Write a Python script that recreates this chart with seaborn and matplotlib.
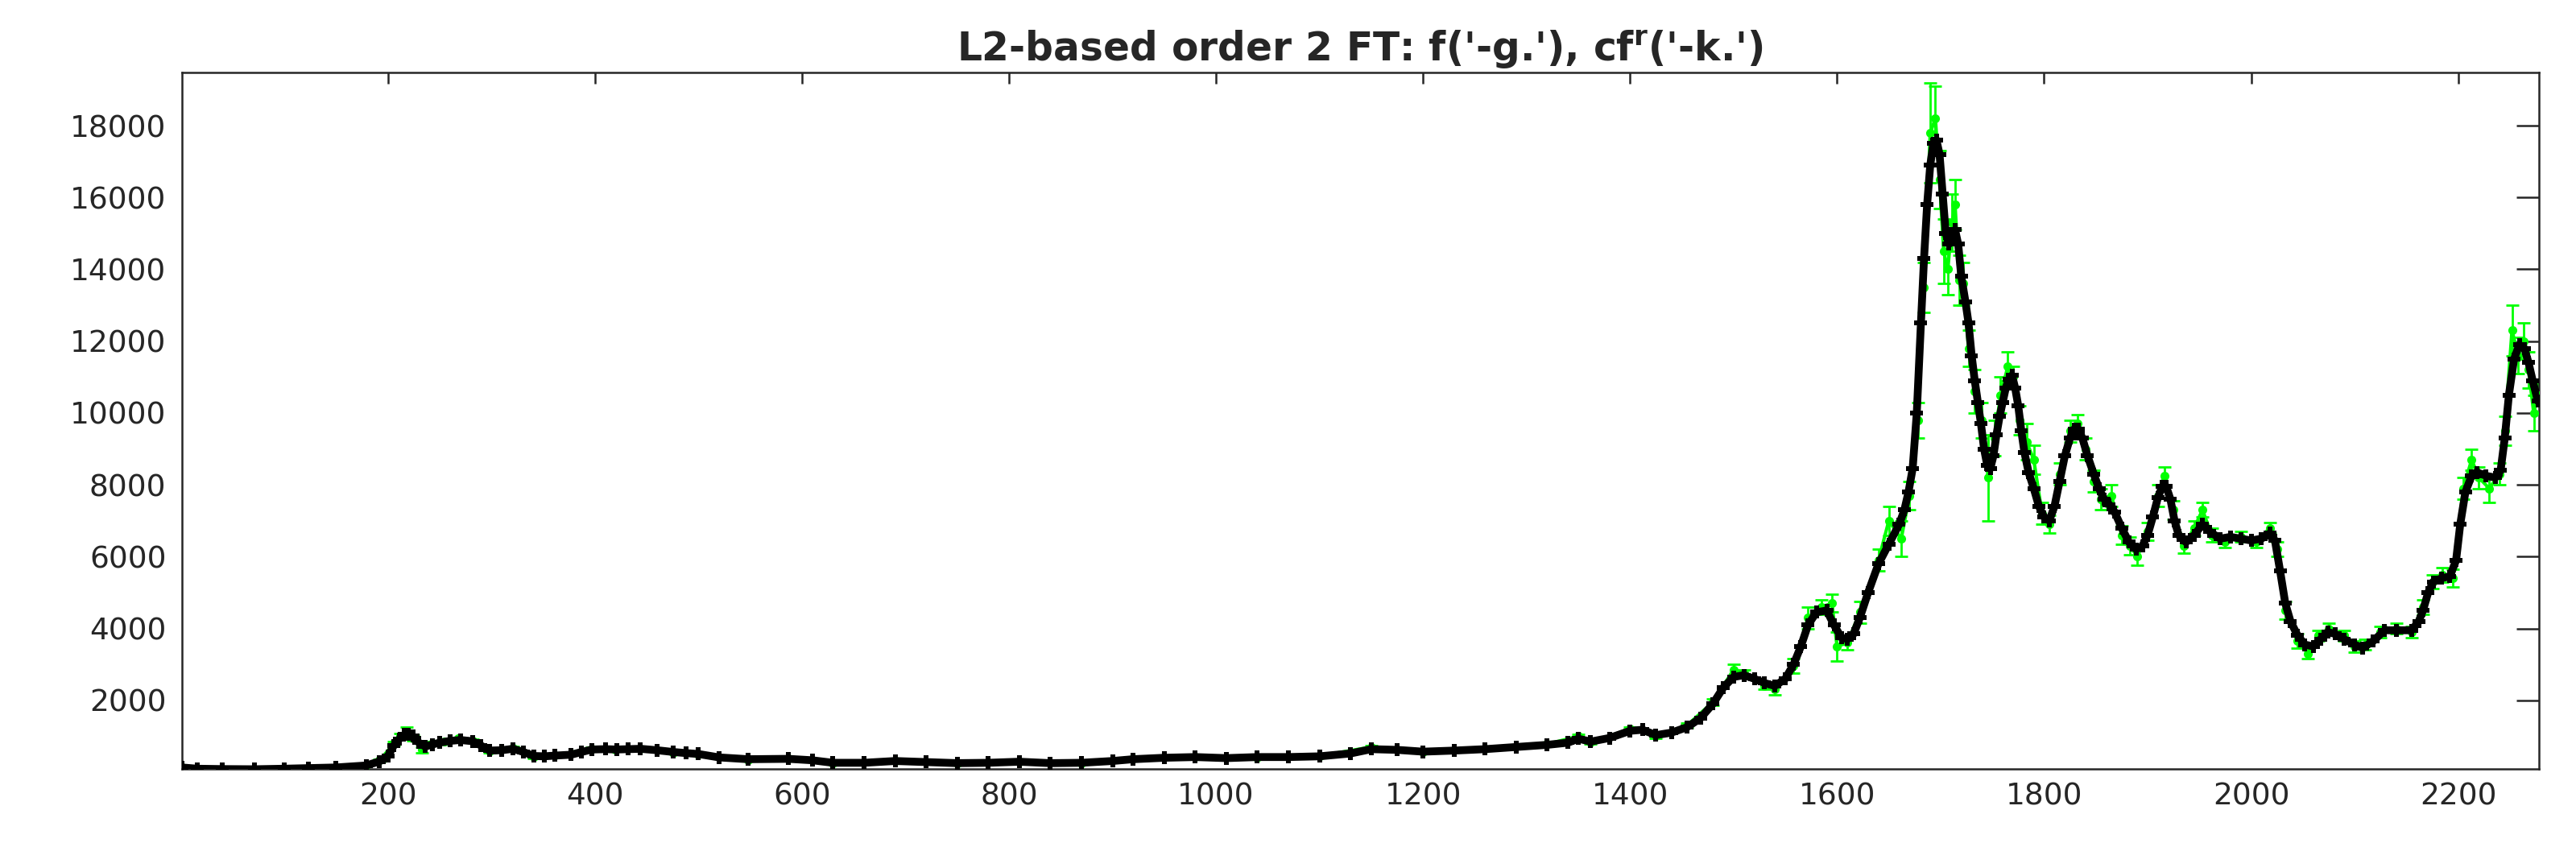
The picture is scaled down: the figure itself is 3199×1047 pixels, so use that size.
import numpy as np
import pandas as pd
import matplotlib
matplotlib.use('Agg')
import matplotlib.pyplot as plt
import seaborn as sns

# black curve: cf^r (smoothed fit)
cf_x = [1, 16, 40, 71, 100, 123, 150, 179, 192, 200, 206, 211, 216, 220, 224, 230, 236, 243, 250, 260,
        270, 282, 290, 298, 310, 321, 331, 341, 351, 361, 377, 387, 397, 410, 421, 432, 444, 460, 476, 488,
        500, 520, 548, 587, 610, 630, 660, 690, 720, 750, 780, 810, 840, 870, 900, 920, 950, 980, 1010, 1040,
        1070, 1100, 1130, 1150, 1175, 1200, 1230, 1260, 1290, 1320, 1340, 1350, 1362, 1380, 1400, 1412, 1425, 1440, 1455, 1468,
        1480, 1490, 1500, 1510, 1520, 1530, 1540, 1550, 1558, 1565, 1572, 1580, 1590, 1597, 1604, 1610, 1616, 1622, 1630, 1640,
        1650, 1660, 1665, 1669, 1673, 1677, 1681, 1684, 1687, 1690, 1693, 1696, 1699, 1702, 1705, 1708, 1711, 1714, 1717, 1720,
        1724, 1727, 1730, 1733, 1736, 1739, 1742, 1745, 1748, 1751, 1754, 1757, 1760, 1763, 1766, 1769, 1772, 1775, 1778, 1781,
        1785, 1790, 1795, 1800, 1805, 1810, 1815, 1820, 1825, 1829, 1833, 1837, 1842, 1848, 1853, 1858, 1863, 1868, 1875, 1882,
        1889, 1895, 1900, 1905, 1910, 1914, 1918, 1922, 1926, 1930, 1937, 1945, 1953, 1960, 1970, 1980, 1990, 2000, 2010, 2018,
        2023, 2028, 2033, 2038, 2045, 2052, 2060, 2067, 2074, 2081, 2090, 2100, 2108, 2118, 2129, 2140, 2155, 2162, 2166, 2171,
        2176, 2184, 2192, 2198, 2202, 2207, 2213, 2218, 2227, 2236, 2241, 2245, 2249, 2254, 2259, 2264, 2268, 2272, 2277]
cf_y = [130, 95, 85, 80, 95, 110, 130, 185, 300, 450, 750, 920, 1045, 1060, 1000, 820, 710, 770, 820, 870,
        895, 860, 740, 600, 610, 650, 560, 450, 440, 460, 485, 560, 630, 640, 630, 640, 650, 610, 560, 530,
        505, 410, 360, 370, 330, 260, 260, 310, 280, 250, 260, 290, 250, 260, 310, 360, 400, 420, 390, 420,
        420, 440, 520, 640, 620, 570, 600, 640, 700, 760, 820, 930, 850, 950, 1150, 1180, 1030, 1100, 1250, 1500,
        1900, 2350, 2650, 2700, 2600, 2480, 2400, 2600, 3000, 3500, 4100, 4450, 4500, 4100, 3750, 3700, 3850, 4300, 5000, 5800,
        6350, 6900, 7300, 7800, 8450, 10000, 12500, 14300, 15800, 16900, 17500, 17600, 17200, 16100, 15000, 14700, 15000, 15100, 14700, 13800,
        13100, 12500, 11600, 10900, 10300, 9700, 9000, 8550, 8450, 8800, 9400, 9900, 10300, 10700, 10950, 11050, 10700, 10200, 9500, 8900,
        8350, 7900, 7400, 7100, 7000, 7400, 8100, 8800, 9300, 9550, 9550, 9300, 8800, 8300, 7900, 7600, 7450, 7250, 6800, 6400,
        6200, 6300, 6600, 7100, 7650, 7950, 7950, 7600, 7000, 6600, 6400, 6600, 6900, 6700, 6500, 6550, 6500, 6450, 6500, 6650,
        6450, 5600, 4700, 4200, 3800, 3550, 3500, 3700, 3900, 3850, 3700, 3550, 3460, 3650, 3950, 3950, 3950, 4200, 4500, 5000,
        5300, 5400, 5450, 5900, 6900, 7800, 8250, 8350, 8250, 8200, 8400, 9300, 10500, 11500, 11900, 11800, 11400, 10900, 10330]

# green curve: f with error bars
f_x = [1, 40, 100, 150, 179, 192, 206, 212, 218, 224, 233, 243, 255, 268, 282, 298, 321, 341, 361, 397,
       420, 444, 476, 500, 548, 587, 630, 690, 750, 810, 870, 920, 980, 1040, 1100, 1150, 1200, 1260, 1320, 1350,
       1362, 1400, 1425, 1455, 1480, 1500, 1510, 1530, 1540, 1558, 1572, 1585, 1595, 1600, 1610, 1622, 1640, 1650, 1662, 1670,
       1678, 1684, 1690, 1695, 1699, 1703, 1707, 1711, 1714, 1718, 1722, 1727, 1733, 1740, 1746, 1752, 1758, 1765, 1770, 1776,
       1783, 1790, 1798, 1805, 1815, 1825, 1832, 1840, 1848, 1855, 1865, 1875, 1883, 1890, 1900, 1910, 1916, 1925, 1935, 1945,
       1953, 1962, 1975, 1990, 2005, 2018, 2025, 2033, 2045, 2055, 2065, 2075, 2090, 2100, 2110, 2125, 2140, 2155, 2166, 2175,
       2185, 2195, 2205, 2213, 2220, 2230, 2240, 2245, 2252, 2258, 2263, 2268, 2273, 2277]
f_y = [130, 90, 100, 140, 200, 330, 800, 1000, 1150, 950, 620, 800, 850, 930, 870, 580, 680, 430, 470, 650,
       620, 660, 540, 500, 340, 380, 250, 320, 240, 300, 250, 390, 430, 410, 450, 700, 560, 650, 780, 1000,
       830, 1200, 1000, 1300, 1950, 2850, 2750, 2400, 2300, 2950, 4300, 4600, 4700, 3500, 3600, 4450, 5900, 7000, 6500, 7700,
       9800, 13500, 17800, 18200, 16500, 14500, 14000, 15300, 15800, 13700, 13600, 11800, 10600, 9800, 8200, 9300, 10500, 11300, 11000, 9800,
       9200, 8700, 7200, 6900, 8300, 9500, 9700, 9000, 8100, 7600, 7700, 6600, 6300, 6000, 6700, 7700, 8250, 7300, 6300, 6800,
       7300, 6600, 6400, 6550, 6400, 6800, 6200, 4500, 3650, 3300, 3800, 4000, 3800, 3500, 3550, 3900, 4000, 3900, 4600, 5300,
       5500, 5400, 7900, 8700, 8200, 7900, 8300, 9500, 12300, 11600, 12000, 11200, 10000, 10500]
f_err = [20, 10, 10, 10, 20, 30, 60, 80, 100, 80, 80, 50, 50, 40, 40, 40, 40, 40, 30, 40,
         30, 30, 30, 30, 30, 30, 20, 20, 20, 20, 20, 30, 20, 20, 20, 50, 30, 30, 40, 60,
         50, 60, 50, 60, 100, 150, 100, 100, 150, 200, 300, 200, 250, 400, 200, 300, 300, 400, 500, 400,
         500, 700, 1400, 900, 800, 900, 700, 800, 700, 700, 600, 500, 600, 500, 1200, 500, 500, 400, 300, 400,
         500, 400, 300, 250, 300, 300, 250, 300, 300, 300, 300, 250, 250, 250, 250, 300, 250, 250, 200, 200,
         200, 200, 150, 150, 150, 150, 200, 250, 200, 150, 150, 150, 150, 150, 150, 150, 150, 150, 200, 200,
         200, 250, 300, 300, 300, 400, 300, 400, 700, 500, 500, 500, 500, 300]

x_ticks = [200, 400, 600, 800, 1000, 1200, 1400, 1600, 1800, 2000, 2200]
y_ticks = [2000, 4000, 6000, 8000, 10000, 12000, 14000, 16000, 18000]

cf = pd.DataFrame({'x': cf_x, 'y': cf_y})
f = pd.DataFrame({'x': f_x, 'y': f_y, 'err': f_err})

sns.set_style('white')
plt.rcParams['font.family'] = ['DejaVu Sans']

fig = plt.figure(figsize=(31.99, 10.47), dpi=100)
ax = fig.add_axes([0.0706, 0.0879, 0.915, 0.8261])

# green f('-g.') with error bars
ax.errorbar(f['x'], f['y'], yerr=f['err'], fmt='none', ecolor=(0, 1, 0),
            elinewidth=2, capsize=6, capthick=2, zorder=2)
sns.lineplot(data=f, x='x', y='y', ax=ax, color=(0, 1, 0), linewidth=3,
             marker='o', markersize=8, markeredgewidth=0, sort=False,
             estimator=None, zorder=3)

# black cf^r('-k.')
sns.lineplot(data=cf, x='x', y='y', ax=ax, color='black', linewidth=7,
             marker='P', markersize=12, markeredgewidth=0, sort=False,
             estimator=None, zorder=4)

ax.set_xlim(1, 2278)
ax.set_ylim(90, 19480)
ax.set_xticks(x_ticks)
ax.set_yticks(y_ticks)
ax.set_xlabel('')
ax.set_ylabel('')
ax.tick_params(direction='in', top=True, right=True, width=1.8, colors='#262626',
               labelsize=27, labelcolor='#262626')
ax.tick_params(axis='x', length=10, pad=12)
ax.tick_params(axis='y', length=20, pad=14)
for s in ax.spines.values():
    s.set_linewidth(1.8)
    s.set_color('#262626')

ax.set_title(r"L2-based order 2 FT: f('-g.'), cf$^{\mathbf{r}}$('-k.')",
             fontsize=35, fontweight='bold', pad=10)

fig.savefig('out.png', dpi=100)
